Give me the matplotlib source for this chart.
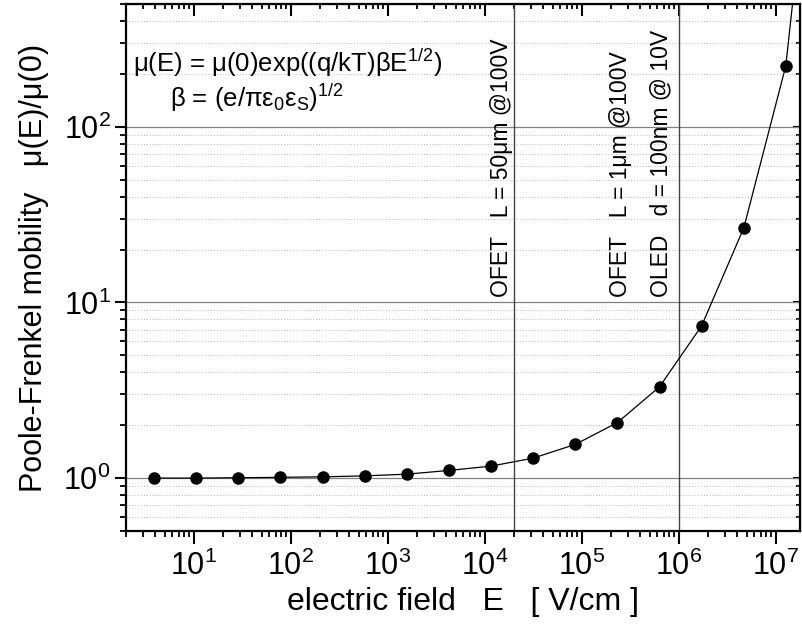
import matplotlib
matplotlib.use("Agg")
import matplotlib.pyplot as plt
from matplotlib.ticker import LogLocator, NullFormatter, FixedLocator, LogFormatterSciNotation

plt.rcParams['font.family'] = ['Liberation Sans', 'DejaVu Sans']
plt.rcParams['mathtext.fontset'] = 'custom'
plt.rcParams['mathtext.rm'] = 'Liberation Sans'
plt.rcParams['mathtext.it'] = 'Liberation Sans:italic'
plt.rcParams['mathtext.default'] = 'regular'

# data
field = [3.9, 10.6, 28.8, 78, 213, 578, 1570, 4270, 11600, 31600,
         85900, 233000, 634000, 1.72e6, 4.69e6, 1.27e7]
mobility = [1.0, 1.0, 1.005, 1.01, 1.017, 1.03, 1.053, 1.106, 1.17, 1.30,
            1.556, 2.07, 3.31, 7.35, 26.6, 222]
# curve continuation beyond last point (to top edge)
curve_x = field + [1.49e7]
curve_y = mobility + [500]

x_ticks = [1e1, 1e2, 1e3, 1e4, 1e5, 1e6, 1e7]
y_ticks = [1, 10, 100]

vlines = [2e4, 1e6]
annotations = [
    (1.5e4, 'OFET   L = 50μm @100V'),
    (2.5e5, 'OFET   L = 1μm @100V'),
    (6.6e5, 'OLED   d = 100nm @ 10V'),
]

fig = plt.figure(figsize=(8.02, 6.33), dpi=100)
ax = fig.add_axes([126/802, (633-531)/633, (800-126)/802, (531-4)/633])
ax.set_xscale('log')
ax.set_yscale('log')
ax.set_xlim(2, 1.78e7)
ax.set_ylim(0.5, 500)

ax.yaxis.set_major_locator(FixedLocator(y_ticks))
ax.yaxis.set_major_formatter(LogFormatterSciNotation())
ax.yaxis.set_minor_locator(LogLocator(base=10, subs=range(2, 10), numticks=20))
ax.yaxis.set_minor_formatter(NullFormatter())
ax.xaxis.set_major_locator(FixedLocator(x_ticks))
ax.xaxis.set_major_formatter(LogFormatterSciNotation())
ax.xaxis.set_minor_locator(LogLocator(base=10, subs=range(2, 10), numticks=40))
ax.xaxis.set_minor_formatter(NullFormatter())

ax.grid(True, which='major', axis='y', color='#808080', lw=0.9, ls='-')
ax.grid(True, which='minor', axis='y', color='#b8b8b8', lw=0.7, ls=(0, (1, 2)))
ax.set_axisbelow(True)

for xv in vlines:
    ax.axvline(xv, color='#444444', lw=1.0, zorder=1)

ax.plot(curve_x, curve_y, color='black', lw=0.9, zorder=3, clip_on=True)
ax.plot(field, mobility, 'o', color='black', ms=8, zorder=4)

for xv, txt in annotations:
    ax.text(xv, 10.7, txt, rotation=90, ha='center', va='bottom', fontsize=16.5)

ax.text(0.0104, 0.871, 'μ(E) = μ(0)exp((q/kT)β$E^{1/2}$)', transform=ax.transAxes,
        ha='left', va='baseline', fontsize=18.5)
ax.text(0.065, 0.805, 'β = (e/πε$_0$ε$_S)^{1/2}$', transform=ax.transAxes,
        ha='left', va='baseline', fontsize=18.5)

for s in ax.spines.values():
    s.set_linewidth(1.6)

ax.tick_params(which='major', direction='out', length=9, width=1.5, labelsize=22, pad=5)
ax.tick_params(which='minor', direction='out', length=4.5, width=1.3)
ax.tick_params(axis='y', which='major', length=8, pad=3)

secx = ax.secondary_xaxis('top')
secx.tick_params(which='major', direction='in', length=8.5, width=1.5, labeltop=False)
secx.tick_params(which='minor', direction='in', length=3.5, width=1.3)
secx.xaxis.set_major_locator(FixedLocator(x_ticks))
secx.xaxis.set_minor_locator(LogLocator(base=10, subs=range(2, 10), numticks=40))
secx.xaxis.set_major_formatter(NullFormatter())
secx.xaxis.set_minor_formatter(NullFormatter())

secy = ax.secondary_yaxis('right')
secy.tick_params(which='major', direction='in', length=5, width=1.5, labelright=False)
secy.tick_params(which='minor', direction='in', length=3, width=1.3)
secy.yaxis.set_major_locator(FixedLocator(y_ticks))
secy.yaxis.set_minor_locator(LogLocator(base=10, subs=range(2, 10), numticks=20))
secy.yaxis.set_major_formatter(NullFormatter())
secy.yaxis.set_minor_formatter(NullFormatter())

ax.set_xlabel('electric field   E   [ V/cm ]', fontsize=23, labelpad=4)
ax.set_ylabel('Poole-Frenkel mobility   μ(E)/μ(0)', fontsize=22, labelpad=10)

fig.savefig('out.png', dpi=100)
